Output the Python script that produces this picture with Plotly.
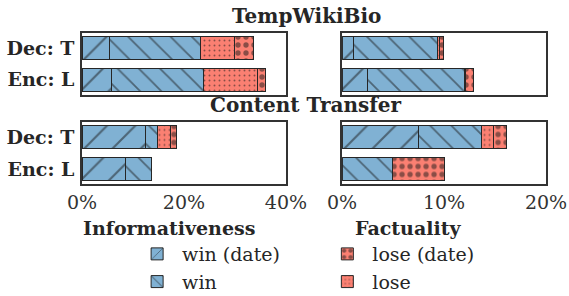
import plotly.graph_objects as go
from plotly.subplots import make_subplots

categories = ["Dec: T", "Enc: L"]

# TempWikiBio
twb_inf_win_date = [5.4, 5.8]
twb_inf_win = [17.8, 18.1]
twb_inf_lose = [6.7, 10.5]
twb_inf_lose_date = [3.8, 1.6]

twb_fac_win_date = [1.1, 2.45]
twb_fac_win = [8.25, 9.55]
twb_fac_lose = [0.2, 0.15]
twb_fac_lose_date = [0.35, 0.75]

# Content Transfer
ct_inf_win_date = [12.4, 8.6]
ct_inf_win = [2.5, 5.1]
ct_inf_lose = [2.5, None]
ct_inf_lose_date = [1.2, None]

ct_fac_win_date = [7.5, None]
ct_fac_win = [6.15, 4.9]
ct_fac_lose = [1.2, None]
ct_fac_lose_date = [1.3, 5.1]

inf_ticks = [0, 20, 40]
fac_ticks = [0, 10, 20]

BLUE = "#80b1d3"
RED = "#fb8072"
EDGE = "#262626"
FONT = "DejaVu Serif"

series_style = {
    "win (date)": dict(color=BLUE, shape="/", size=20, sol=0.11, legend="legend", rank=1),
    "win": dict(color=BLUE, shape="\\", size=15, sol=0.12, legend="legend", rank=2),
    "lose": dict(color=RED, shape=".", size=5, sol=0.12, legend="legend2", rank=2),
    "lose (date)": dict(color=RED, shape=".", size=8, sol=0.35, legend="legend2", rank=1),
}

panels = [
    (1, 1, [twb_inf_win_date, twb_inf_win, twb_inf_lose, twb_inf_lose_date], True),
    (1, 2, [twb_fac_win_date, twb_fac_win, twb_fac_lose, twb_fac_lose_date], False),
    (2, 1, [ct_inf_win_date, ct_inf_win, ct_inf_lose, ct_inf_lose_date], False),
    (2, 2, [ct_fac_win_date, ct_fac_win, ct_fac_lose, ct_fac_lose_date], False),
]
names = ["win (date)", "win", "lose", "lose (date)"]

fig = make_subplots(rows=2, cols=2, horizontal_spacing=0.121, vertical_spacing=0.185)

for row, col, vals, show in panels:
    for name, v in zip(names, vals):
        st = series_style[name]
        fig.add_trace(
            go.Bar(
                y=categories, x=v, orientation="h", name=name,
                marker=dict(
                    color=st["color"],
                    line=dict(color=EDGE, width=1),
                    pattern=dict(shape=st["shape"], size=st["size"], solidity=st["sol"],
                                 fgcolor="#1a1a1a", fillmode="overlay"),
                ),
                legend=st["legend"], legendrank=st["rank"],
                showlegend=show, hoverinfo="skip",
            ),
            row=row, col=col,
        )

fig.update_layout(
    width=569, height=296,
    margin=dict(l=82, r=23, t=33, b=112, autoexpand=False),
    barmode="stack", bargap=0.27,
    plot_bgcolor="white", paper_bgcolor="white",
    font=dict(family=FONT, size=18, color="#262626"),
    showlegend=True,
    legend=dict(x=0.108, y=-0.338, xanchor="left", yanchor="top", traceorder="normal",
                font=dict(size=19, family=FONT), tracegroupgap=0, itemwidth=40,
                bgcolor="rgba(0,0,0,0)"),
    legend2=dict(x=0.518, y=-0.338, xanchor="left", yanchor="top", traceorder="normal",
                 font=dict(size=19, family=FONT), tracegroupgap=0, itemwidth=40,
                 bgcolor="rgba(0,0,0,0)"),
)

for r in (1, 2):
    for c in (1, 2):
        ticks = inf_ticks if c == 1 else fac_ticks
        fig.update_xaxes(
            range=[ticks[0], ticks[-1]], tickvals=ticks,
            ticktext=[f"{t}%" for t in ticks],
            showticklabels=(r == 2), showgrid=False, zeroline=False, automargin=False,
            showline=True, mirror=True, linecolor="#333333", linewidth=1.5,
            tickfont=dict(size=19, color="#333333", family=FONT),
            row=r, col=c,
        )
        fig.update_yaxes(
            categoryorder="array", categoryarray=categories,
            range=[1.47, -0.47], showticklabels=(c == 1), automargin=False,
            showgrid=False, zeroline=False, ticklabelstandoff=2,
            showline=True, mirror=True, linecolor="#333333", linewidth=1.5,
            tickfont=dict(size=19, family=FONT, color="#262626", weight="bold"),
            row=r, col=c,
        )

annots = [
    ("TempWikiBio", 0.483, 1.11, 20),
    ("Content Transfer", 0.483, 0.52, 20),
    ("Informativeness", 0.187, -0.29, 19),
    ("Factuality", 0.703, -0.29, 19),
]
for text, x, y, s in annots:
    fig.add_annotation(text=f"<b>{text}</b>", x=x, y=y, xref="paper", yref="paper",
                       showarrow=False, font=dict(size=s, family=FONT, color="#262626"),
                       xanchor="center", yanchor="middle")

fig.write_html("out.html", config={"displayModeBar": False},
               post_script="document.body.style.margin='0';document.body.style.padding='0';")
